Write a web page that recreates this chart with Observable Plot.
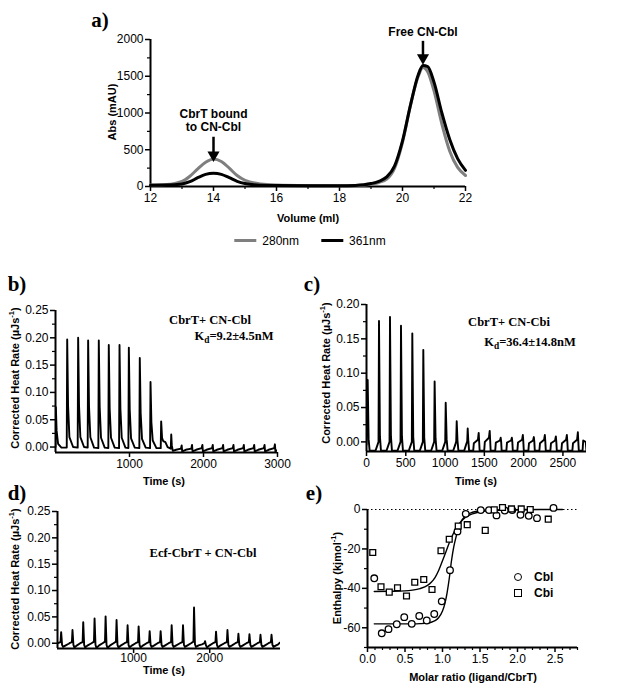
<!DOCTYPE html>
<html><head><meta charset="utf-8">
<script src="https://cdn.jsdelivr.net/npm/d3@7"></script>
<script src="https://cdn.jsdelivr.net/npm/@observablehq/plot@0.6"></script>
<style>
html,body{margin:0;padding:0;background:#fff;}
#fig{position:relative;width:617px;height:692px;overflow:hidden;background:#fff;font-family:"Liberation Sans",Arial,sans-serif;color:#000;}
#fig svg{position:absolute;left:0;top:0;}
.t{position:absolute;white-space:nowrap;line-height:1;}
.pl{font-family:"Liberation Serif","Times New Roman",serif;font-weight:bold;font-size:21px;}
.ax{font-weight:bold;font-size:11px;}
.an{font-family:"Liberation Serif","Times New Roman",serif;font-weight:bold;font-size:12.5px;}
.lg{font-size:12px;}
.lgb{font-size:12px;font-weight:bold;}
sup{font-size:0.7em;line-height:0;}
sub{font-size:0.75em;line-height:0;}
</style></head>
<body><div id="fig"></div>
<script>
// ---------- Panel a: size-exclusion chromatogram ----------
const volume = [12,12.5,13,13.25,13.5,13.75,14,14.25,14.5,14.75,15,15.5,16,17,18,18.5,19,19.25,19.5,19.75,20,20.25,20.5,20.65,20.8,21,21.25,21.5,21.75,22];
const abs280 = [20,27,70,140,240,330,375,340,250,150,85,35,20,12,10,12,30,55,100,250,600,1100,1500,1620,1560,1300,850,480,260,150];
const abs361 = [18,20,35,65,120,165,180,165,120,70,40,18,12,10,10,15,40,70,130,280,620,1100,1520,1645,1630,1420,1000,640,380,220];
const aXTicks = [12,14,16,18,20,22];
const aXMinor = [13,15,17,19,21];
const aYTicks = [0,500,1000,1500,2000];
const aYMinor = [250,750,1250,1750];
const annots = [
  {x:14, label:"CbrT bound\nto CN-Cbl", ly:905, top:670, tip:400},
  {x:20.65, label:"Free CN-Cbl", ly:2110, top:1975, tip:1725}
];

// ---------- Panels b, c, d: ITC thermograms (time s, heat rate µJ/s) ----------
const traceB = [
[0,0.000],[5,0.073],[15,0.030],[35,0.006],[80,-0.001],
[152,-0.001],[158,0.197],[170,0.075],[188,0.018],[238,0.000],
[300,-0.001],[306,0.200],[318,0.076],[336,0.018],[386,0.000],
[435,-0.001],[441,0.195],[453,0.074],[471,0.018],[521,-0.001],
[579,-0.002],[585,0.195],[597,0.074],[615,0.017],[665,-0.001],
[714,-0.002],[720,0.187],[732,0.071],[750,0.017],[800,-0.001],
[859,-0.002],[865,0.187],[877,0.071],[895,0.017],[945,-0.001],
[985,-0.002],[991,0.182],[1003,0.069],[1021,0.016],[1071,-0.001],
[1133,-0.002],[1139,0.163],[1151,0.062],[1169,0.015],[1219,-0.001],
[1278,-0.002],[1284,0.119],[1296,0.045],[1314,0.012],[1364,-0.002],
[1422,-0.002],[1428,0.047],[1440,0.017],[1455,0.011],[1485,0.009],[1515,0.000],
[1558,-0.003],[1564,0.023],[1572,0.003],[1585,-0.007],[1630,-0.005],
[1695,-0.003],[1705,0.003],[1712,-0.008],[1760,-0.005],
[1835,-0.003],[1845,0.004],[1852,-0.008],[1900,-0.005],
[1975,-0.002],[1985,0.004],[1992,-0.008],[2040,-0.005],
[2115,-0.002],[2125,0.004],[2132,-0.008],[2180,-0.005],
[2255,-0.002],[2265,0.004],[2272,-0.008],[2320,-0.005],
[2395,-0.002],[2405,0.004],[2412,-0.008],[2460,-0.005],
[2535,-0.002],[2545,0.004],[2552,-0.008],[2600,-0.005],
[2675,-0.002],[2685,0.004],[2692,-0.008],[2740,-0.005],
[2815,-0.002],[2825,0.004],[2832,-0.008],[2880,-0.005],
[2955,-0.002],[2965,0.005],[2972,-0.008],[2995,-0.006]
];
const traceC = [
[0,-0.004],[15,0.090],[27,0.004],[40,-0.013],
[114,-0.013],[141,-0.004],[153,0.000],[159,0.176],[171,0.008],[184,-0.013],
[254,-0.013],[281,-0.004],[293,0.000],[299,0.182],[311,0.008],[324,-0.013],
[394,-0.013],[421,-0.004],[433,0.000],[439,0.169],[451,0.008],[464,-0.013],
[538,-0.013],[565,-0.004],[577,0.000],[583,0.158],[595,0.007],[608,-0.013],
[678,-0.013],[705,-0.004],[717,0.000],[723,0.134],[735,0.006],[748,-0.013],
[822,-0.013],[849,-0.004],[861,0.000],[867,0.088],[879,0.005],[892,-0.013],
[963,-0.013],[990,-0.004],[1002,0.000],[1008,0.057],[1020,0.004],[1033,-0.013],
[1103,-0.013],[1130,-0.004],[1142,0.001],[1148,0.030],[1158,0.002],[1170,-0.013],
[1243,-0.013],[1270,-0.003],[1282,0.001],[1288,0.0195],[1296,0.001],[1306,-0.013],
[1358,-0.013],[1366,-0.002],[1418,0.003],[1428,0.013],[1434,0.000],[1440,-0.013],
[1498,-0.013],[1506,0.000],[1558,0.006],[1568,0.016],[1574,0.002],[1580,-0.013],
[1638,-0.013],[1646,-0.001],[1698,0.002],[1708,0.006],[1714,0.000],[1720,-0.013],
[1780,-0.013],[1788,-0.001],[1840,0.002],[1850,0.006],[1856,0.000],[1862,-0.013],
[1920,-0.013],[1928,-0.001],[1980,0.003],[1990,0.010],[1996,0.000],[2002,-0.013],
[2060,-0.013],[2068,-0.002],[2120,0.002],[2130,0.007],[2136,0.000],[2142,-0.013],
[2200,-0.013],[2208,-0.002],[2260,0.003],[2270,0.010],[2276,0.000],[2282,-0.013],
[2340,-0.013],[2348,-0.002],[2400,0.002],[2410,0.008],[2416,0.000],[2422,-0.013],
[2480,-0.013],[2488,-0.002],[2540,0.003],[2550,0.010],[2556,0.000],[2562,-0.013],
[2620,-0.013],[2628,-0.002],[2680,0.003],[2690,0.014],[2696,0.000],[2702,-0.013],
[2750,-0.013],[2758,0.002],[2790,0.000],[2800,-0.013]
];
const traceD = [
[0,0.000],[40,0.002],[48,0.021],[60,-0.003],[73,-0.007],[108,-0.004],[148,-0.001],
[157,0.000],[189,0.002],[197,0.025],[209,-0.003],[222,-0.008],[257,-0.004],
[298,0.000],[330,0.002],[338,0.040],[350,-0.003],[363,-0.008],[398,-0.004],
[447,0.000],[479,0.003],[487,0.047],[499,-0.003],[512,-0.009],[547,-0.004],
[592,0.000],[624,0.003],[632,0.051],[644,-0.003],[657,-0.009],[692,-0.004],
[736,0.000],[768,0.003],[776,0.044],[788,-0.003],[801,-0.008],[836,-0.004],
[881,0.000],[913,0.002],[921,0.034],[933,-0.003],[946,-0.008],[981,-0.004],
[1026,0.000],[1058,0.002],[1066,0.032],[1078,-0.003],[1091,-0.008],[1126,-0.004],
[1171,0.000],[1203,0.002],[1211,0.023],[1223,-0.003],[1236,-0.007],[1271,-0.004],
[1315,0.000],[1347,0.002],[1355,0.023],[1367,-0.003],[1380,-0.007],[1415,-0.004],
[1460,0.000],[1492,0.002],[1500,0.034],[1512,-0.003],[1525,-0.007],[1560,-0.004],
[1609,0.000],[1641,0.002],[1649,0.034],[1661,-0.003],[1674,-0.007],[1709,-0.004],
[1754,0.000],[1786,0.003],[1794,0.068],[1806,-0.002],[1819,-0.007],[1854,-0.004],
[1899,-0.002],[1931,0.000],[1939,0.004],[1951,-0.004],[1964,-0.008],[1999,-0.004],
[2043,0.000],[2075,0.002],[2083,0.022],[2095,-0.003],[2108,-0.008],[2143,-0.004],
[2193,0.000],[2225,0.002],[2233,0.025],[2245,-0.003],[2258,-0.007],[2293,-0.004],
[2337,0.000],[2369,0.002],[2377,0.018],[2389,-0.003],[2402,-0.007],[2437,-0.004],
[2482,0.000],[2514,0.002],[2522,0.017],[2534,-0.003],[2547,-0.007],[2582,-0.004],
[2627,0.000],[2659,0.002],[2667,0.016],[2679,-0.003],[2692,-0.007],[2727,-0.004],
[2772,0.000],[2804,0.002],[2812,0.016],[2824,-0.003],[2837,-0.007],[2872,-0.004],
[2900,-0.002],[2920,0.001]
];
const bdYTicks = [0,0.05,0.10,0.15,0.20,0.25];
const bdYMinor = [0.025,0.075,0.125,0.175,0.225];
const cYTicks = [0,0.05,0.10,0.15,0.20];
const cYMinor = [0.025,0.075,0.125,0.175];
const bXTicks = [1000,2000,3000];
const cXTicks = [0,500,1000,1500,2000,2500];
const dXTicks = [1000,2000];

// ---------- Panel e: integrated heats ----------
const cblRatio = [0.09,0.19,0.28,0.39,0.49,0.59,0.69,0.79,0.89,0.99,1.10,1.20,1.31,1.51,1.62,1.72,1.83,1.93,2.04,2.15,2.26,2.48];
const cblDH    = [-34.9,-62.8,-60.7,-58.2,-54.6,-58.0,-54.0,-56.3,-53.0,-46.6,-30.8,-11.1,-2.2,-0.3,-0.3,-3.0,-0.5,-0.3,-2.7,-3.2,-4.4,0.8];
const cbiRatio = [0.07,0.18,0.29,0.40,0.52,0.63,0.75,0.86,0.98,1.09,1.21,1.33,1.57,1.69,1.80,1.92,2.05,2.17,2.41];
const cbiDH    = [-21.8,-39.2,-41.9,-39.7,-43.9,-36.9,-35.5,-40.6,-20.9,-15.1,-8.4,-7.7,-10.6,-0.2,1.0,0.3,0.3,0.0,-4.9];
const cblFitX  = [0.09,0.2,0.4,0.6,0.7,0.8,0.85,0.9,0.95,1.0,1.03,1.06,1.09,1.12,1.15,1.18,1.21,1.25,1.3,1.4,1.5,1.7,2.0,2.3,2.6];
const cblFitY  = [-58,-58,-58,-58,-57.9,-57.6,-57.2,-56.4,-54.8,-51.5,-48,-42.5,-35,-26,-19,-14,-10,-6,-3.5,-1.4,-0.7,-0.3,-0.1,0,0];
const cbiFitX  = [0.09,0.3,0.5,0.6,0.7,0.8,0.85,0.9,0.95,1.0,1.05,1.1,1.15,1.2,1.25,1.3,1.4,1.5,1.7,1.9,2.2];
const cbiFitY  = [-41.6,-41.5,-41.3,-40.9,-40.1,-38.5,-36.9,-34.5,-30.8,-26,-21,-16,-11.8,-8.5,-6,-4.2,-2.2,-1.2,-0.4,-0.1,0];
const eXTicks = [0,0.5,1.0,1.5,2.0,2.5];
const eXMinor = [0.1,0.2,0.3,0.4,0.6,0.7,0.8,0.9,1.1,1.2,1.3,1.4,1.6,1.7,1.8,1.9,2.1,2.2,2.3,2.4,2.6,2.7,2.8];
const eYTicks = [0,-20,-40,-60];
const eYMinor = [-10,-30,-50,-70];

// ---------- rendering ----------
const W = 617, H = 692;
const fig = document.getElementById("fig");
const FONT = "'Liberation Sans', Arial, sans-serif";
const baseStyle = {background:"transparent", color:"black", fontFamily:FONT, fontSize:"12px", overflow:"visible"};
const plain = d => String(d);

function panel(fr, xDomain, yDomain, marks){
  const svg = Plot.plot({
    width:W, height:H,
    marginLeft:fr[0], marginRight:W-fr[1], marginTop:fr[2], marginBottom:H-fr[3],
    x:{domain:xDomain}, y:{domain:yDomain},
    style:baseStyle,
    marks: marks.flat().filter(m => m != null)
  });
  fig.appendChild(svg);
}
function axes(o){
  const fs = o.fs || 12;
  return [
    Plot.axisX(o.xMaj, {tickSize:5, strokeWidth:1.5, tickPadding:o.xPad ?? 2, tickFormat:o.xFmt, label:null, fontSize:fs}),
    o.xMin ? Plot.axisX(o.xMin, {tickSize:3, strokeWidth:1.2, tickFormat:() => "", label:null}) : null,
    Plot.axisY(o.yMaj, {tickSize:5, strokeWidth:1.5, tickPadding:2, tickFormat:o.yFmt, label:null, fontSize:fs}),
    o.yMin ? Plot.axisY(o.yMin, {tickSize:3, strokeWidth:1.2, tickFormat:() => "", label:null}) : null,
    Plot.ruleY([o.yAt], {strokeWidth:2}),
    Plot.ruleX([o.xAt], {strokeWidth:2})
  ];
}
function txt(html, x, y, cls, opt = {}){
  const d = document.createElement("div");
  d.className = "t " + cls;
  d.innerHTML = html;
  d.style.left = x + "px";
  d.style.top = y + "px";
  const tx = opt.anchor === "start" ? "0" : "-50%";
  d.style.transform = `translate(${tx},-50%)` + (opt.rot ? " rotate(-90deg)" : "");
  fig.appendChild(d);
  return d;
}

// Panel a
const aFr = [150, 465, 39, 186];
panel(aFr, [12,22], [0,2000], [
  axes({xMaj:aXTicks, xMin:aXMinor, yMaj:aYTicks, yMin:aYMinor, xFmt:plain, yFmt:plain, yAt:0, xAt:12}),
  Plot.line(volume.map((v,i) => ({v, a:abs280[i]})), {x:"v", y:"a", stroke:"#7f7f7f", strokeWidth:3, curve:"monotone-x"}),
  Plot.line(volume.map((v,i) => ({v, a:abs361[i]})), {x:"v", y:"a", stroke:"black", strokeWidth:3, curve:"monotone-x"}),
  Plot.ruleX(annots, {x:"x", y1:"top", y2:"tip", strokeWidth:2.5}),
  Plot.dot(annots, {x:"x", y:"tip", symbol:"triangle", rotate:180, r:4.5, fill:"black", dy:-2}),
  Plot.text(annots, {x:"x", y:"ly", text:"label", fontWeight:"bold", fontSize:12, lineHeight:1.15, fontFamily:FONT})
]);
txt("a)", 100, 20, "pl");
txt("Abs (mAU)", 112, 112, "ax", {rot:true});
txt("Volume (ml)", 308, 218, "ax");
txt('<span style="display:inline-block;width:22px;height:3px;background:#7f7f7f;vertical-align:middle;margin-right:6px"></span><span class="lg" style="vertical-align:middle">280nm</span><span style="display:inline-block;width:22px;height:3px;background:#000;vertical-align:middle;margin:0 6px 0 22px"></span><span class="lg" style="vertical-align:middle">361nm</span>', 310, 240, "");

// Panel b
const bFr = [55, 277, 310, 452];
panel(bFr, [0,3000], [-0.01,0.25], [
  axes({xMaj:bXTicks, yMaj:bdYTicks, yMin:bdYMinor, xFmt:plain, yFmt:d3.format(".2f"), yAt:-0.01, xAt:0}),
  Plot.line(traceB, {x:d => d[0], y:d => d[1], stroke:"black", strokeWidth:1.9, clip:true})
]);
txt("b)", 17, 284, "pl");
txt("Corrected Heat Rate (µJs<sup>-1</sup>)", 15, 378, "ax", {rot:true});
txt("Time (s)", 164, 481, "ax");
txt("CbrT+ CN-Cbl", 210, 320, "an");
txt("K<sub>d</sub>=9.2±4.5nM", 234, 336, "an");

// Panel c
const cFr = [366, 586, 304, 451];
panel(cFr, [0,2800], [-0.014,0.20], [
  axes({xMaj:cXTicks, yMaj:cYTicks, yMin:cYMinor, xFmt:plain, yFmt:d3.format(".2f"), yAt:-0.014, xAt:0}),
  Plot.line(traceC, {x:d => d[0], y:d => d[1], stroke:"black", strokeWidth:1.9, clip:true})
]);
txt("c)", 312, 284, "pl");
txt("Corrected Heat Rate (µJs<sup>-1</sup>)", 326, 373, "ax", {rot:true});
txt("Time (s)", 476, 481, "ax");
txt("CbrT+ CN-Cbi", 509, 322, "an");
txt("K<sub>d</sub>=36.4±14.8nM", 530, 342, "an");

// Panel d
const dFr = [57, 280, 511, 648];
panel(dFr, [0,2930], [-0.01,0.25], [
  axes({xMaj:dXTicks, yMaj:bdYTicks, yMin:bdYMinor, xFmt:plain, yFmt:d3.format(".2f"), yAt:-0.01, xAt:0, xPad:0}),
  Plot.line(traceD, {x:d => d[0], y:d => d[1], stroke:"black", strokeWidth:1.9, clip:true})
]);
txt("d)", 17, 493, "pl");
txt("Corrected Heat Rate (µJs<sup>-1</sup>)", 15, 579, "ax", {rot:true});
txt("Time (s)", 164, 670, "ax");
txt("Ecf-CbrT + CN-Cbl", 203, 553, "an");

// Panel e
const eFr = [367, 577, 509, 647];
panel(eFr, [0,2.8], [-70,0], [
  axes({xMaj:eXTicks, xMin:eXMinor, yMaj:eYTicks, yMin:eYMinor, xFmt:d3.format(".1f"), yFmt:plain, yAt:-70, xAt:0}),
  Plot.ruleY([0], {stroke:"black", strokeWidth:1, strokeDasharray:"1.5,2.5"}),
  Plot.line(cblFitX.map((x,i) => ({x, y:cblFitY[i]})), {x:"x", y:"y", stroke:"black", strokeWidth:1.4, curve:"monotone-x"}),
  Plot.line(cbiFitX.map((x,i) => ({x, y:cbiFitY[i]})), {x:"x", y:"y", stroke:"black", strokeWidth:1.4, curve:"monotone-x"}),
  Plot.dot(cblRatio.map((x,i) => ({x, y:cblDH[i]})), {x:"x", y:"y", symbol:"circle", r:3.3, stroke:"black", strokeWidth:1.3, fill:"white"}),
  Plot.dot(cbiRatio.map((x,i) => ({x, y:cbiDH[i]})), {x:"x", y:"y", symbol:"square", r:3.3, stroke:"black", strokeWidth:1.3, fill:"white"})
]);
txt("e)", 314, 493, "pl");
txt("Enthalpy (kjmol<sup>-1</sup>)", 337, 578, "ax", {rot:true});
txt("Molar ratio (ligand/CbrT)", 473, 677, "ax");
txt('<span style="display:inline-block;width:6px;height:6px;border:1.4px solid #000;border-radius:50%;vertical-align:middle;margin-right:12px"></span><span class="lgb" style="vertical-align:middle">Cbl</span>', 514, 576, "", {anchor:"start"});
txt('<span style="display:inline-block;width:6px;height:6px;border:1.4px solid #000;vertical-align:middle;margin-right:12px"></span><span class="lgb" style="vertical-align:middle">Cbi</span>', 514, 592, "", {anchor:"start"});
</script>
</body></html>
